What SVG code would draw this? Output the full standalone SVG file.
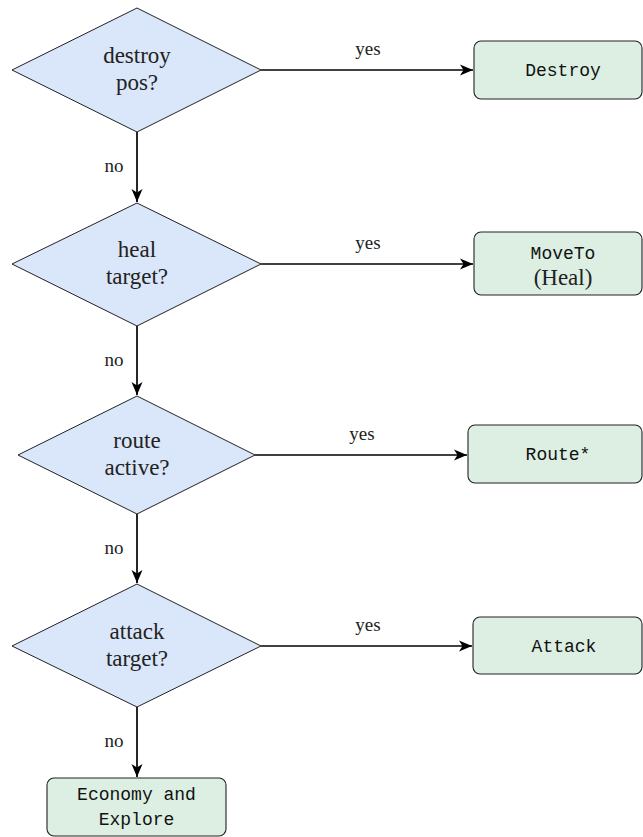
<svg xmlns="http://www.w3.org/2000/svg" width="643" height="837" viewBox="0 0 643 837">
<style>
.dec{fill:#dae6f9;stroke:#222;stroke-width:1}
.act{fill:#dcefe2;stroke:#222;stroke-width:1.1}
.t{font-family:"Liberation Serif","Times New Roman",serif;font-size:23px;fill:#222;text-anchor:middle}
.m{font-family:"Liberation Mono","Courier New",monospace;font-size:18px;fill:#111;text-anchor:middle}
.lbl{font-family:"Liberation Serif","Times New Roman",serif;font-size:19px;fill:#222;text-anchor:middle}
.c{stroke:#000;stroke-width:1.7;fill:none;marker-end:url(#ah)}
</style>
<defs>
<marker id="ah" markerWidth="14" markerHeight="12" refX="13" refY="6" orient="auto" markerUnits="userSpaceOnUse">
<path d="M0,0.5 L13,6 L0,11.5 L3.5,6 Z" fill="#000"/>
</marker>
</defs>
<g id="connectors">
<line class="c" x1="261" y1="70" x2="473" y2="70"/>
<text class="lbl" x="368" y="55">yes</text>
<line class="c" x1="261" y1="264" x2="473" y2="264"/>
<text class="lbl" x="368" y="249">yes</text>
<line class="c" x1="255" y1="455" x2="467" y2="455"/>
<text class="lbl" x="362" y="440">yes</text>
<line class="c" x1="261" y1="646" x2="472" y2="646"/>
<text class="lbl" x="368" y="631">yes</text>
<line class="c" x1="137" y1="132" x2="137" y2="202"/>
<text class="lbl" x="114" y="172">no</text>
<line class="c" x1="137" y1="326" x2="137" y2="395"/>
<text class="lbl" x="114" y="366">no</text>
<line class="c" x1="137" y1="514" x2="137" y2="583"/>
<text class="lbl" x="114" y="554">no</text>
<line class="c" x1="137" y1="707" x2="137" y2="777"/>
<text class="lbl" x="114" y="747">no</text>
</g>
<g id="d1">
<polygon class="dec" points="137,8 261,70 137,132 12,70"/>
<text class="t" x="137" y="63">destroy</text>
<text class="t" x="137" y="90">pos?</text>
</g>
<g id="d2">
<polygon class="dec" points="137,203 261,264 137,326 12,264"/>
<text class="t" x="137" y="257">heal</text>
<text class="t" x="137" y="284">target?</text>
</g>
<g id="d3">
<polygon class="dec" points="137,396 255,455 137,514 18,455"/>
<text class="t" x="137" y="448">route</text>
<text class="t" x="137" y="475">active?</text>
</g>
<g id="d4">
<polygon class="dec" points="137,584 261,646 137,707 12,646"/>
<text class="t" x="137" y="639">attack</text>
<text class="t" x="137" y="666">target?</text>
</g>
<g id="destroy">
<rect class="act" x="474" y="41" width="168" height="58" rx="7"/>
<text class="m" x="563" y="76">Destroy</text>
</g>
<g id="moveto">
<rect class="act" x="474" y="232" width="168" height="63" rx="7"/>
<text class="m" x="563" y="259">MoveTo</text>
<text class="t" x="563" y="285">(Heal)</text>
</g>
<g id="route">
<rect class="act" x="468" y="425" width="174" height="58" rx="7"/>
<text class="m" x="558" y="460">Route*</text>
</g>
<g id="attack">
<rect class="act" x="473" y="617" width="169" height="57" rx="7"/>
<text class="m" x="564" y="652">Attack</text>
</g>
<g id="economy">
<rect class="act" x="47" y="778" width="179" height="58" rx="7"/>
<text class="m" x="136.5" y="800">Economy and</text>
<text class="m" x="136.5" y="825">Explore</text>
</g>
</svg>
